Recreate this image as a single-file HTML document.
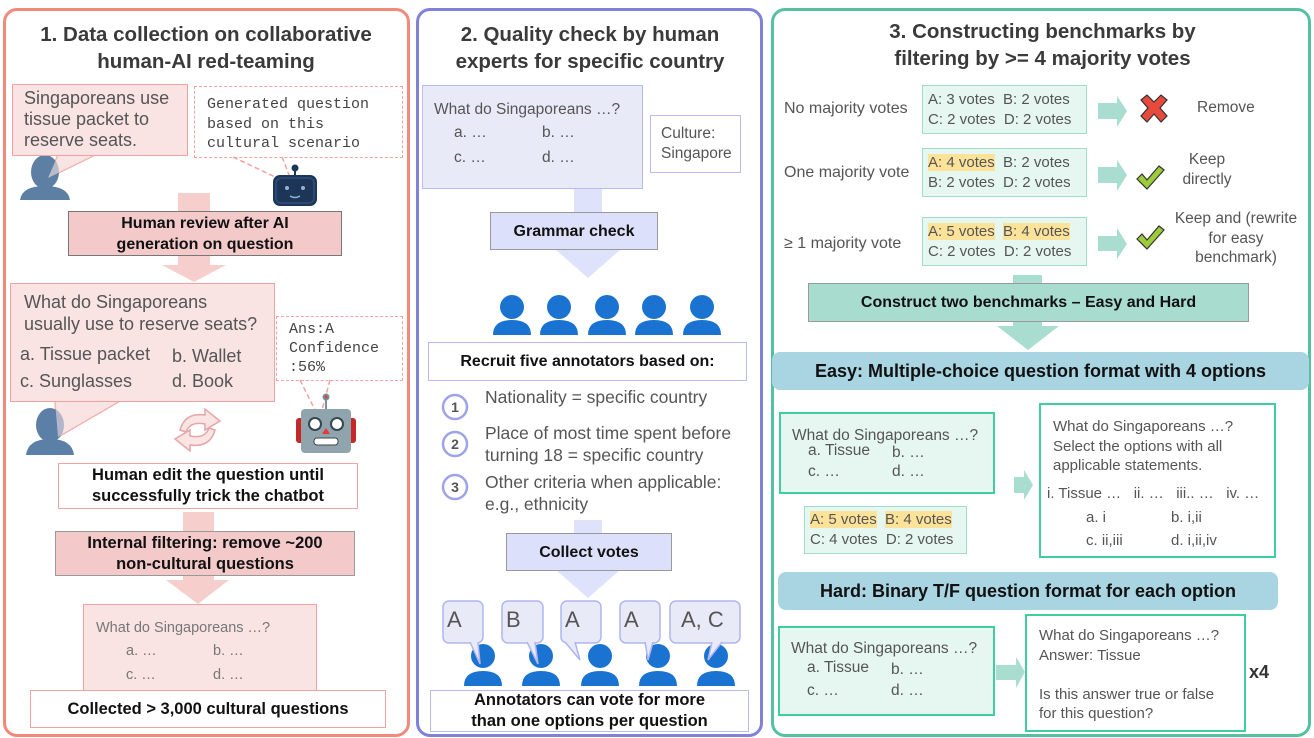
<!DOCTYPE html>
<html><head><meta charset="utf-8">
<style>
*{box-sizing:border-box;margin:0;padding:0}
body{width:1314px;height:738px;background:#fff;position:relative;overflow:hidden;font-family:"Liberation Sans",sans-serif;color:#555}
.a{position:absolute}
.panel{position:absolute;border-radius:14px;border:3px solid}
.t{position:absolute;font-weight:bold;font-size:20.5px;color:#3a3a3a;text-align:center;line-height:27px}
.bx{position:absolute;display:flex;align-items:center;justify-content:center;text-align:center;font-weight:bold;color:#111;font-size:16px;line-height:21px}
.mono{font-family:"Liberation Mono",monospace;color:#444}
.hl{background:#fde39a}
svg{position:absolute;overflow:visible}
</style></head><body>

<div class="panel" style="left:3px;top:8px;width:407px;height:729px;border-color:#f3897b"></div>
<div class="panel" style="left:416px;top:8px;width:347px;height:729px;border-color:#7f82d8"></div>
<div class="panel" style="left:771px;top:8px;width:540px;height:729px;border-color:#55c19f"></div>

<!-- ========== Panel 1 ========== -->
<div class="t" style="left:10px;top:21px;width:392px">1. Data collection on collaborative<br>human-AI red-teaming</div>

<svg width="1314" height="738" style="left:0;top:0">
  <polygon points="178,193 210,193 210,265 226,265 194,282 162,265 178,265" fill="#f6cfcc"/>
  <polygon points="183,512 214,512 214,580 229,580 198,604 166,580 183,580" fill="#f6cfcc"/>
  <polygon points="58,155 95,155 48,178" fill="#f9e3e3" stroke="#f0a3a0" stroke-width="1.5"/>
  <g fill="#5d7fa3"><ellipse cx="45" cy="172" rx="14" ry="17"/><path d="M20,200 Q22,186 45,186 Q68,186 70,200 Z"/></g>
  <polygon points="58,155 95,155 48,178" fill="#f9e3e3" opacity="0.6"/>
  <path d="M233,157 L292,185 M282,157 L293,185" stroke="#f0a3a0" stroke-dasharray="5,3" stroke-width="1.5" fill="none"/>
  <g><rect x="273" y="175" width="44" height="31" rx="7" fill="#1d3557"/>
  <rect x="276" y="178" width="38" height="25" rx="5" fill="#1d3557" stroke="#2a4a75" stroke-width="2"/>
  <circle cx="295" cy="168" r="3.5" fill="#1d3557"/><rect x="294" y="168" width="2" height="7" fill="#1d3557"/>
  <circle cx="287" cy="188" r="2" fill="#8fb3d9"/><circle cx="303" cy="188" r="2" fill="#8fb3d9"/>
  <path d="M290,196 Q295,199 300,196" stroke="#8fb3d9" stroke-width="1.5" fill="none"/></g>
  <polygon points="55,401 120,401 58,437" fill="#f9e3e3" stroke="#f0a3a0" stroke-width="1.5"/>
  <g fill="#5b7fa6"><ellipse cx="50" cy="425" rx="14" ry="17"/><path d="M26,455 Q28,439 50,439 Q72,439 74,455 Z"/></g>
  <polygon points="55,401 120,401 58,437" fill="#f9e3e3" opacity="0.55"/>
  <path d="M180,430 Q185,412 205,415 L205,409 L220,421 L205,430 L205,424 Q190,421 186,432 Z" fill="#fbe4e4" stroke="#e6a6a6" stroke-width="1.5"/>
  <path d="M215,430 Q210,448 190,445 L190,451 L175,439 L190,430 L190,436 Q205,439 209,428 Z" fill="#fbe4e4" stroke="#e6a6a6" stroke-width="1.5"/>
  <path d="M300,380 L315,410 M330,380 L322,410" stroke="#f0a3a0" stroke-dasharray="5,3" stroke-width="1.5" fill="none"/>
  <g><rect x="296" y="418" width="8" height="25" rx="3" fill="#c62828"/><rect x="348" y="418" width="8" height="25" rx="3" fill="#c62828"/>
  <rect x="301" y="409" width="50" height="44" rx="4" fill="#90a4ae"/>
  <rect x="325" y="398" width="2" height="11" fill="#78909c"/><circle cx="326" cy="397" r="3.5" fill="#78909c"/><circle cx="326" cy="397" r="1.5" fill="#e53935"/>
  <circle cx="315" cy="424" r="6" fill="#fff" stroke="#37474f" stroke-width="2"/><circle cx="337" cy="424" r="6" fill="#fff" stroke="#37474f" stroke-width="2"/>
  <polygon points="326,428 322,434 330,434" fill="#e53935"/>
  <rect x="314" y="438" width="24" height="7" rx="3" fill="#fff" stroke="#37474f" stroke-width="1"/></g>
</svg>

<div class="a" style="left:12px;top:84px;width:176px;height:72px;background:#f9e3e3;border:1.5px solid #f0a3a0;padding:3px 0 0 11px;font-size:18px;line-height:21px;color:#555">Singaporeans use<br>tissue packet to<br>reserve seats.</div>
<div class="a mono" style="left:194px;top:86px;width:209px;height:72px;border:1.5px dashed #f0a3a0;padding:8px 0 0 12px;font-size:15px;line-height:19.5px">Generated question<br>based on this<br>cultural scenario</div>

<div class="bx" style="left:68px;top:211px;width:274px;height:45px;background:#f3c9c9;border:1.5px solid #777">Human review after AI<br>generation on question</div>

<div class="a" style="left:10px;top:283px;width:265px;height:119px;background:#f9e3e3;border:1.5px solid #f0a3a0;font-size:18px;color:#555">
  <div class="a" style="left:13px;top:7px;line-height:22px;white-space:nowrap">What do Singaporeans<br>usually use to reserve seats?</div>
  <div class="a" style="left:9px;top:60px">a. Tissue packet</div><div class="a" style="left:161px;top:62px">b. Wallet</div>
  <div class="a" style="left:9px;top:87px">c. Sunglasses</div><div class="a" style="left:161px;top:87px">d. Book</div>
</div>
<div class="a mono" style="left:276px;top:316px;width:127px;height:65px;border:1.5px dashed #f0a3a0;padding:3px 0 0 12px;font-size:15px;line-height:19px">Ans:A<br>Confidence<br>:56%</div>

<div class="bx" style="left:58px;top:463px;width:300px;height:46px;background:#fff;border:1.5px solid #f0a3a0;font-size:16.5px">Human edit the question until<br>successfully trick the chatbot</div>
<div class="bx" style="left:55px;top:531px;width:300px;height:45px;background:#f3c9c9;border:1.5px solid #999;font-size:16.5px">Internal filtering: remove ~200<br>non-cultural questions</div>

<div class="a" style="left:83px;top:604px;width:234px;height:88px;background:#f9e3e3;border:1.5px solid #f0a3a0;font-size:14.5px;color:#777">
  <div class="a" style="left:12px;top:15px">What do Singaporeans …?</div>
  <div class="a" style="left:42px;top:38px">a. …</div><div class="a" style="left:129px;top:38px">b. …</div>
  <div class="a" style="left:42px;top:62px">c. …</div><div class="a" style="left:129px;top:62px">d. …</div>
</div>
<div class="bx" style="left:30px;top:690px;width:356px;height:38px;background:#fff;border:1.5px solid #f0a3a0;font-size:16.5px">Collected &gt; 3,000 cultural questions</div>

<!-- ========== Panel 2 ========== -->
<div class="t" style="left:420px;top:21px;width:340px">2. Quality check by human<br>experts for specific country</div>

<svg width="1314" height="738" style="left:0;top:0">
  <polygon points="574,188 602,188 602,250 620,250 588,278 556,250 574,250" fill="#dfe2fb"/>
  <polygon points="574,520 602,520 602,570 620,570 588,598 556,570 574,570" fill="#dfe2fb"/>
  <g fill="#1a73d0">
    <g transform="translate(512,315)"><circle cx="0" cy="-8" r="12"/><path d="M-19,20 Q-19,5 0,5 Q19,5 19,20 Z"/></g>
    <g transform="translate(559,315)"><circle cx="0" cy="-8" r="12"/><path d="M-19,20 Q-19,5 0,5 Q19,5 19,20 Z"/></g>
    <g transform="translate(607,315)"><circle cx="0" cy="-8" r="12"/><path d="M-19,20 Q-19,5 0,5 Q19,5 19,20 Z"/></g>
    <g transform="translate(654,315)"><circle cx="0" cy="-8" r="12"/><path d="M-19,20 Q-19,5 0,5 Q19,5 19,20 Z"/></g>
    <g transform="translate(702,315)"><circle cx="0" cy="-8" r="12"/><path d="M-19,20 Q-19,5 0,5 Q19,5 19,20 Z"/></g>
    <g transform="translate(483,664)"><circle cx="0" cy="-8" r="12"/><path d="M-19,22 Q-19,7 0,7 Q19,7 19,22 Z"/></g>
    <g transform="translate(541,664)"><circle cx="0" cy="-8" r="12"/><path d="M-19,22 Q-19,7 0,7 Q19,7 19,22 Z"/></g>
    <g transform="translate(600,664)"><circle cx="0" cy="-8" r="12"/><path d="M-19,22 Q-19,7 0,7 Q19,7 19,22 Z"/></g>
    <g transform="translate(658,664)"><circle cx="0" cy="-8" r="12"/><path d="M-19,22 Q-19,7 0,7 Q19,7 19,22 Z"/></g>
    <g transform="translate(716,664)"><circle cx="0" cy="-8" r="12"/><path d="M-19,22 Q-19,7 0,7 Q19,7 19,22 Z"/></g>
  </g>
  <g fill="#e8eaf8" stroke="#b0b5ee" stroke-width="1.5">
    <rect x="443" y="601" width="40" height="42" rx="6"/><polygon points="470,642 478,642 480,664" stroke="none"/>
    <rect x="502" y="601" width="41" height="42" rx="6"/><polygon points="527,642 535,642 538,664" stroke="none"/>
    <rect x="561" y="601" width="40" height="42" rx="6"/><polygon points="565,642 575,642 580,660" stroke="none"/>
    <rect x="620" y="601" width="40" height="42" rx="6"/><polygon points="645,642 653,642 648,660" stroke="none"/>
    <rect x="670" y="601" width="70" height="42" rx="6"/><polygon points="712,642 722,642 708,660" stroke="none"/>
  </g>
  <g stroke="#b0b5ee" stroke-width="1.5" fill="none">
    <path d="M470,642 L480,664 L478,642"/><path d="M527,642 L538,664 L535,642"/><path d="M565,642 L580,660 L575,642"/><path d="M645,642 L648,660 L653,642"/><path d="M712,642 L708,660 L722,642"/>
  </g>
  <g fill="#fff" stroke="#9ea3e8" stroke-width="2.5">
    <circle cx="455" cy="407" r="12"/><circle cx="455" cy="444" r="12"/><circle cx="455" cy="487" r="12"/>
  </g>
  <g font-family="Liberation Sans" font-weight="bold" font-size="14" fill="#555" text-anchor="middle">
    <text x="455" y="412">1</text><text x="455" y="449">2</text><text x="455" y="492">3</text>
  </g>
  <g font-family="Liberation Sans" font-size="22" fill="#555">
    <text x="447" y="627">A</text><text x="506" y="627">B</text><text x="565" y="627">A</text><text x="624" y="627">A</text><text x="681" y="627">A, C</text>
  </g>
</svg>

<div class="a" style="left:422px;top:85px;width:221px;height:104px;background:#e8eaf8;border:1.5px solid #b8bcec;font-size:15.5px;color:#555">
  <div class="a" style="left:11px;top:15px">What do Singaporeans …?</div>
  <div class="a" style="left:31px;top:38px">a. …</div><div class="a" style="left:119px;top:38px">b. …</div>
  <div class="a" style="left:31px;top:63px">c. …</div><div class="a" style="left:119px;top:63px">d. …</div>
</div>
<div class="a" style="left:650px;top:115px;width:91px;height:58px;border:1.5px solid #b8bcec;padding:8px 0 0 10px;font-size:15.5px;line-height:20px;color:#555">Culture:<br>Singapore</div>
<div class="bx" style="left:490px;top:212px;width:168px;height:38px;background:#dde0fa;border:1.5px solid #999">Grammar check</div>
<div class="bx" style="left:428px;top:342px;width:319px;height:39px;background:#fff;border:1.5px solid #b8bcec">Recruit five annotators based on:</div>
<div class="a" style="left:485px;top:387px;font-size:17.5px;line-height:21px;color:#555;white-space:nowrap">Nationality = specific country</div>
<div class="a" style="left:485px;top:422px;font-size:17.5px;line-height:22px;color:#555;white-space:nowrap">Place of most time spent before<br>turning 18 = specific country</div>
<div class="a" style="left:485px;top:471px;font-size:17.5px;line-height:22px;color:#555;white-space:nowrap">Other criteria when applicable:<br>e.g., ethnicity</div>
<div class="bx" style="left:506px;top:533px;width:166px;height:38px;background:#dde0fa;border:1.5px solid #999">Collect votes</div>
<div class="bx" style="left:430px;top:690px;width:319px;height:42px;background:#fff;border:1.5px solid #b8bcec;font-size:16.5px">Annotators can vote for more<br>than one options per question</div>

<!-- ========== Panel 3 ========== -->
<div class="t" style="left:775px;top:18px;width:535px">3. Constructing benchmarks by<br>filtering by &gt;= 4 majority votes</div>

<svg width="1314" height="738" style="left:0;top:0">
  <g fill="#a9ddd0">
    <polygon points="1098,103 1117,103 1117,96 1127,111 1117,127 1117,119 1098,119"/>
    <polygon points="1098,167 1117,167 1117,160 1127,175 1117,191 1117,183 1098,183"/>
    <polygon points="1098,236 1117,236 1117,228 1127,244 1117,259 1117,251 1098,251"/>
    <polygon points="1014,477 1024,477 1024,470 1033,485 1024,500 1024,493 1014,493"/>
    <polygon points="996,665 1016,665 1016,657 1025,672 1016,688 1016,680 996,680"/>
    <polygon points="1013,275 1042,275 1042,326 1059,326 1028,350 997,326 1013,326"/>
  </g>
  <path d="M1141,100 L1147,95 L1154,102 L1161,95 L1167,100 L1160,108 L1167,116 L1161,122 L1154,114 L1147,122 L1141,116 L1148,108 Z" fill="#e8493d" stroke="#333" stroke-width="1.2"/>
  <path d="M1137,179 L1142,174 L1147,180 L1159,166 L1164,170 L1147,189 Z" fill="#9ccc3a" stroke="#333" stroke-width="1.2"/>
  <path d="M1137,239 L1142,234 L1147,240 L1159,226 L1164,230 L1147,249 Z" fill="#9ccc3a" stroke="#333" stroke-width="1.2"/>
  <ellipse cx="1209" cy="519" rx="36" ry="10" fill="none" stroke="#f0a04b" stroke-width="1.5"/>
</svg>

<div class="a" style="left:784px;top:100px;font-size:16px;color:#555">No majority votes</div>
<div class="a" style="left:784px;top:164px;font-size:16px;color:#555">One majority vote</div>
<div class="a" style="left:784px;top:235px;font-size:16px;color:#555">≥ 1 majority vote</div>

<div class="a" style="left:922px;top:85px;width:165px;height:49px;background:#e6f6f1;border:1.5px solid #9fdcc9;font-size:15px;color:#555;line-height:19.5px;padding:4px 0 0 5px;white-space:nowrap">A: 3 votes&nbsp; B: 2 votes<br>C: 2 votes&nbsp; D: 2 votes</div>
<div class="a" style="left:922px;top:148px;width:165px;height:49px;background:#e6f6f1;border:1.5px solid #9fdcc9;font-size:15px;color:#555;line-height:19.5px;padding:4px 0 0 5px;white-space:nowrap"><span class="hl">A: 4 votes</span>&nbsp; B: 2 votes<br>B: 2 votes&nbsp; D: 2 votes</div>
<div class="a" style="left:922px;top:217px;width:165px;height:49px;background:#e6f6f1;border:1.5px solid #9fdcc9;font-size:15px;color:#555;line-height:19.5px;padding:4px 0 0 5px;white-space:nowrap"><span class="hl">A: 5 votes</span>&nbsp; <span class="hl">B: 4 votes</span><br>C: 2 votes&nbsp; D: 2 votes</div>

<div class="a" style="left:1197px;top:99px;font-size:15.5px;color:#555">Remove</div>
<div class="a" style="left:1172px;top:150px;width:70px;text-align:center;font-size:15.5px;line-height:20px;color:#555">Keep<br>directly</div>
<div class="a" style="left:1160px;top:209px;width:152px;text-align:center;font-size:15.5px;line-height:19.5px;color:#555;white-space:nowrap">Keep and (rewrite<br>for easy<br>benchmark)</div>

<div class="bx" style="left:808px;top:283px;width:441px;height:39px;background:#a8dccf;border:1.5px solid #999">Construct two benchmarks – Easy and Hard</div>
<div class="bx" style="left:772px;top:352px;width:537px;height:38px;background:#a9d4e2;border-radius:8px;font-size:18px">Easy: Multiple-choice question format with 4 options</div>

<div class="a" style="left:779px;top:412px;width:216px;height:82px;background:#e6f6f1;border:2px solid #3fcf9f;font-size:15.5px;color:#555">
  <div class="a" style="left:11px;top:13px">What do Singaporeans …?</div>
  <div class="a" style="left:27px;top:28px">a. Tissue</div><div class="a" style="left:111px;top:30px">b. …</div>
  <div class="a" style="left:27px;top:49px">c. …</div><div class="a" style="left:111px;top:49px">d. …</div>
</div>
<div class="a" style="left:804px;top:506px;width:163px;height:48px;background:#e6f6f1;border:1.5px solid #9fdcc9;font-size:15px;color:#555;line-height:20px;padding:3px 0 0 5px;white-space:nowrap"><span class="hl">A: 5 votes</span>&nbsp; <span class="hl">B: 4 votes</span><br>C: 4 votes&nbsp; D: 2 votes</div>

<div class="a" style="left:1039px;top:403px;width:237px;height:155px;background:#fff;border:2px solid #3fcf9f;font-size:15px;color:#555">
  <div class="a" style="left:12px;top:12px;line-height:19.5px;width:220px">What do Singaporeans …?<br>Select the options with all<br>applicable statements.</div>
  <div class="a" style="left:6px;top:80px;white-space:nowrap">i. Tissue …&nbsp;&nbsp; ii. …&nbsp;&nbsp; iii.. …&nbsp;&nbsp; iv. …</div>
  <div class="a" style="left:45px;top:104px">a. i</div><div class="a" style="left:130px;top:104px">b. i,ii</div>
  <div class="a" style="left:45px;top:127px">c. ii,iii</div><div class="a" style="left:130px;top:127px">d. i,ii,iv</div>
</div>

<div class="bx" style="left:778px;top:572px;width:500px;height:38px;background:#a9d4e2;border-radius:8px;font-size:18px">Hard: Binary T/F question format for each option</div>

<div class="a" style="left:778px;top:626px;width:217px;height:90px;background:#e6f6f1;border:2px solid #3fcf9f;font-size:15.5px;color:#555">
  <div class="a" style="left:11px;top:12px">What do Singaporeans …?</div>
  <div class="a" style="left:27px;top:31px">a. Tissue</div><div class="a" style="left:111px;top:33px">b. …</div>
  <div class="a" style="left:27px;top:54px">c. …</div><div class="a" style="left:111px;top:54px">d. …</div>
</div>
<div class="a" style="left:1025px;top:614px;width:221px;height:118px;background:#fff;border:2px solid #3fcf9f;font-size:15px;color:#555;line-height:19.5px;padding:10px 0 0 12px">What do Singaporeans …?<br>Answer: Tissue<br><br>Is this answer true or false<br>for this question?</div>
<div class="a" style="left:1249px;top:662px;font-weight:bold;font-size:18px;color:#333">x4</div>

</body></html>
